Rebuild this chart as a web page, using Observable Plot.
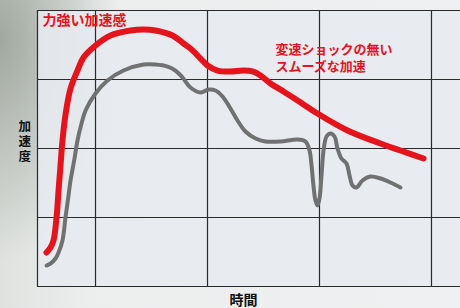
<!DOCTYPE html>
<html>
<head>
<meta charset="utf-8">
<script src="https://cdn.jsdelivr.net/npm/d3@7"></script>
<script src="https://cdn.jsdelivr.net/npm/@observablehq/plot@0.6"></script>
<style>
  html, body { margin: 0; padding: 0; }
  #chart {
    width: 460px; height: 308px; overflow: hidden;
    background:
      radial-gradient(ellipse 120px 220px at 0px 40px, rgba(150,158,148,0.85), rgba(150,158,148,0) 100%),
      linear-gradient(90deg, #dfe2df 0%, #eceeee 20%, #eef0f1 100%);
  }
</style>
</head>
<body>
<div id="chart"></div>
<script>
// time axis (grid lines at 1,2,3,4), acceleration axis (grid lines at 0..4)
const xGrid = [1, 2, 3, 4];
const yGrid = [0, 1, 2, 3, 4];
const xStart = 0.482, xEnd = 4.259;

// red: strong, smooth acceleration
const redT = [0.5625,0.598,0.625,0.652,0.670,0.6875,0.705,0.732,0.777,0.839,0.893,1.0,1.134,1.3125,1.429,1.536,1.6875,1.786,1.848,1.9375,2.0,2.089,2.205,2.321,2.402,2.473,2.5625,2.679,2.804,2.982,3.25,3.545,3.723,3.929];
const redA = [0.493,0.565,0.667,1.0,1.391,1.754,2.116,2.490,2.870,3.130,3.319,3.493,3.638,3.710,3.725,3.710,3.638,3.522,3.449,3.304,3.203,3.130,3.116,3.130,3.116,3.058,2.942,2.826,2.696,2.507,2.261,2.072,1.971,1.855];

// grey: comparison with shift shock
const greyT = [0.5625,0.598,0.643,0.670,0.705,0.732,0.759,0.777,0.8125,0.839,0.875,0.911,1.0,1.107,1.25,1.429,1.536,1.643,1.714,1.777,1.848,1.9375,2.009,2.071,2.134,2.205,2.268,2.339,2.429,2.518,2.652,2.804,2.875,2.911,2.929,2.946,2.964,2.982,3.0,3.018,3.036,3.063,3.098,3.134,3.161,3.196,3.241,3.268,3.295,3.330,3.384,3.455,3.545,3.634,3.723];
const greyA = [0.304,0.333,0.406,0.493,0.667,1.0,1.319,1.536,1.855,2.116,2.362,2.551,2.797,2.986,3.130,3.217,3.217,3.188,3.130,3.029,2.884,2.812,2.855,2.841,2.754,2.580,2.406,2.246,2.145,2.101,2.101,2.130,2.101,1.971,1.754,1.464,1.246,1.174,1.275,1.609,1.971,2.174,2.217,2.174,2.0,1.855,1.783,1.609,1.464,1.435,1.536,1.594,1.565,1.507,1.435];

const labelTop = "力強い加速感";
const labelRight = "変速ショックの無い\nスムーズな加速";
const yLabel = "加\n速\n度";
const xLabel = "時間";

const red = redT.map((t, i) => ({t, a: redA[i]}));
const grey = greyT.map((t, i) => ({t, a: greyA[i]}));
const font = "'Noto Sans CJK JP', sans-serif";

const plot = Plot.plot({
  width: 460, height: 308,
  marginLeft: 37, marginRight: 0, marginTop: 10, marginBottom: 22,
  x: {domain: [xStart, xEnd], axis: null},
  y: {domain: [0, 4], axis: null},
  style: {background: "transparent", fontFamily: font},
  marks: [
    Plot.frame({fill: "#e7eaee", stroke: null, fillOpacity: 0.9}),
    Plot.ruleX([xStart, ...xGrid], {stroke: "#2b2b2b", strokeWidth: 1.2}),
    Plot.ruleY(yGrid, {stroke: "#2b2b2b", strokeWidth: 1.2}),
    Plot.line(grey, {x: "t", y: "a", stroke: "#717171", strokeWidth: 4, curve: "catmull-rom"}),
    Plot.line(red, {x: "t", y: "a", stroke: "#e5141c", strokeWidth: 6, curve: "catmull-rom"}),
    Plot.text([labelTop], {x: 0.527, y: 3.855, text: d => d, textAnchor: "start", fill: "#e3141e", fontSize: 14, fontWeight: "bold", fontFamily: font}),
    Plot.text([labelRight], {x: 2.607, y: 3.319, text: d => d, textAnchor: "start", lineAnchor: "middle", lineHeight: 1.3, fill: "#e3141e", fontSize: 13, fontWeight: "bold", fontFamily: font}),
    Plot.text([yLabel], {frameAnchor: "left", y: 2.101, dx: -19, text: d => d, lineAnchor: "middle", lineHeight: 1.2, fill: "#111", fontSize: 12.5, fontWeight: "bold", fontFamily: font}),
    Plot.text([xLabel], {frameAnchor: "bottom", x: 2.321, dy: 14, text: d => d, lineAnchor: "middle", fill: "#111", fontSize: 14, fontWeight: "bold", fontFamily: font})
  ]
});
document.getElementById("chart").appendChild(plot);
</script>
</body>
</html>
